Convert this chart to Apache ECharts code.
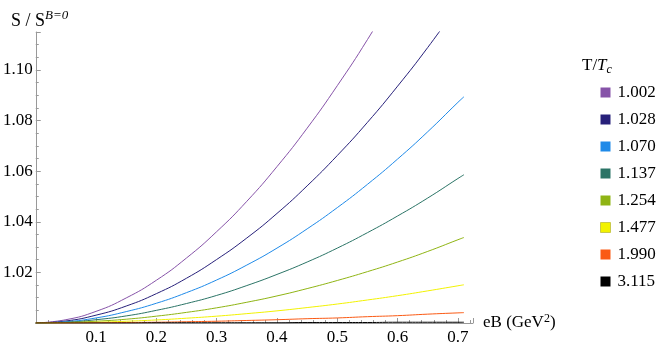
<!DOCTYPE html>
<html>
<head>
<meta charset="utf-8">
<script src="https://cdn.jsdelivr.net/npm/echarts@6/dist/echarts.min.js"></script>
<style>
  html, body { margin: 0; padding: 0; background: #fff; }
  #chart { width: 664px; height: 346px; }
</style>
</head>
<body>
<div id="chart"></div>
<script>
// eB grid (GeV^2)
const eB = [0, 0.05, 0.1, 0.15, 0.2, 0.25, 0.3, 0.35, 0.4, 0.45, 0.5, 0.55, 0.6, 0.65, 0.7, 0.71];

// T/Tc labels and colours
const temps = ['1.002', '1.028', '1.070', '1.137', '1.254', '1.477', '1.990', '3.115'];
const colors = ['#8653a8', '#27207a', '#1f8ae8', '#2b7466', '#8fb414', '#f2f200', '#fa5a14', '#000000'];

// S / S^{B=0}
const s1002 = [1, 1.0013, 1.0046, 1.0099, 1.0169, 1.0257, 1.0361, 1.0481, 1.0618, 1.0770, 1.0938, 1.1120, 1.1319];
const s1028 = [1, 1.0008, 1.0031, 1.0067, 1.0116, 1.0177, 1.0251, 1.0336, 1.0433, 1.0542, 1.0662, 1.0793, 1.0936, 1.1089, 1.1254];
const s1070 = [1, 1.0005, 1.0020, 1.0045, 1.0078, 1.0120, 1.0170, 1.0229, 1.0296, 1.0372, 1.0456, 1.0548, 1.0648, 1.0756, 1.0872, 1.0894];
const s1137 = [1, 1.0003, 1.0013, 1.0028, 1.0050, 1.0077, 1.0109, 1.0148, 1.0192, 1.0241, 1.0296, 1.0357, 1.0423, 1.0494, 1.0571, 1.0586];
const s1254 = [1, 1.0002, 1.0007, 1.0015, 1.0027, 1.0042, 1.0060, 1.0082, 1.0107, 1.0136, 1.0168, 1.0203, 1.0241, 1.0283, 1.0329, 1.0338];
const s1477 = [1, 1.0001, 1.0003, 1.0007, 1.0012, 1.0019, 1.0027, 1.0037, 1.0048, 1.0061, 1.0075, 1.0091, 1.0108, 1.0127, 1.0147, 1.0151];
const s1990 = [1, 1.0000, 1.0001, 1.0002, 1.0003, 1.0005, 1.0007, 1.0010, 1.0013, 1.0017, 1.0020, 1.0025, 1.0029, 1.0035, 1.0040, 1.0041];
const s3115 = [1, 1, 1, 1, 1.0001, 1.0001, 1.0001, 1.0001, 1.0001, 1.0002, 1.0002, 1.0002, 1.0003, 1.0003, 1.0003, 1.0003];

const allCurves = [s1002, s1028, s1070, s1137, s1254, s1477, s1990, s3115];

const FONT = '"Liberation Serif", "DejaVu Serif", serif';
const chart = echarts.init(document.getElementById('chart'));

const series = allCurves.map((vals, i) => ({
  name: temps[i],
  type: 'line',
  showSymbol: false,
  smooth: true,
  clip: true,
  lineStyle: { width: 1, color: colors[i] },
  itemStyle: { color: colors[i] },
  data: vals.map((v, j) => [eB[j], v])
}));

const option = {
  animation: false,
  textStyle: { fontFamily: FONT },
  title: {
    text: '{a|S / S}{b|B=0}',
    left: 6,
    top: 4,
    textStyle: {
      fontWeight: 'normal',
      rich: {
        a: { fontFamily: FONT, fontSize: 18, fontWeight: 'normal', color: '#000', verticalAlign: 'bottom', lineHeight: 20 },
        b: { fontFamily: FONT, fontSize: 13, fontWeight: 'normal', fontStyle: 'italic', color: '#000', verticalAlign: 'top', padding: [0, 0, 8, 0] }
      }
    }
  },
  graphic: [{
    type: 'text',
    left: 582,
    top: 57,
    style: {
      text: '{a|T/}{b|T}{c|c}',
      rich: {
        a: { fontFamily: FONT, fontSize: 17, fill: '#000' },
        b: { fontFamily: FONT, fontSize: 17, fontStyle: 'italic', fill: '#000' },
        c: { fontFamily: FONT, fontSize: 12, fontStyle: 'italic', fill: '#000', padding: [8, 0, 0, 0] }
      }
    }
  }],
  legend: {
    orient: 'vertical',
    left: 595,
    top: 79,
    icon: 'rect',
    itemWidth: 10,
    itemHeight: 10,
    itemGap: 10,
    textStyle: { fontFamily: FONT, fontSize: 17, color: '#000', lineHeight: 17, padding: [0, 0, 0, 2] },
    data: temps.map((t, i) => ({
      name: t,
      itemStyle: i === 5 ? { color: colors[i], borderColor: '#c9c94a', borderWidth: 1 } : { color: colors[i] }
    }))
  },
  grid: { left: 35, top: 32, width: 438, height: 291, containLabel: false },
  xAxis: {
    type: 'value',
    min: 0,
    max: 0.725,
    interval: 0.1,
    name: '{a|eB (GeV}{b|2}{a|)}',
    nameLocation: 'end',
    nameGap: 10,
    nameTextStyle: {
      verticalAlign: 'middle',
      rich: {
        a: { fontFamily: FONT, fontSize: 17, color: '#000' },
        b: { fontFamily: FONT, fontSize: 12, color: '#000', padding: [0, 0, 8, 0] }
      }
    },
    axisLine: { lineStyle: { color: '#999', width: 1 } },
    axisTick: { inside: true, length: 5, lineStyle: { color: '#999' } },
    minorTick: { show: true, splitNumber: 5, length: 3, lineStyle: { color: '#999' } },
    splitLine: { show: false },
    axisLabel: {
      showMinLabel: false,
      showMaxLabel: false,
      fontFamily: FONT,
      fontSize: 17,
      color: '#000',
      margin: 6,
      formatter: v => v.toFixed(1)
    }
  },
  yAxis: {
    type: 'value',
    min: 1.0,
    max: 1.115,
    interval: 0.02,
    axisLine: { show: true, lineStyle: { color: '#999', width: 1 } },
    axisTick: { show: true, inside: true, length: 5, lineStyle: { color: '#999' } },
    minorTick: { show: true, splitNumber: 4, length: 3, lineStyle: { color: '#999' } },
    splitLine: { show: false },
    axisLabel: {
      showMinLabel: false,
      showMaxLabel: false,
      fontFamily: FONT,
      fontSize: 17,
      color: '#000',
      margin: 3,
      formatter: v => v.toFixed(2)
    }
  },
  series: series
};

chart.setOption(option);
window.onresize = function () { chart.resize(); };
</script>
</body>
</html>
